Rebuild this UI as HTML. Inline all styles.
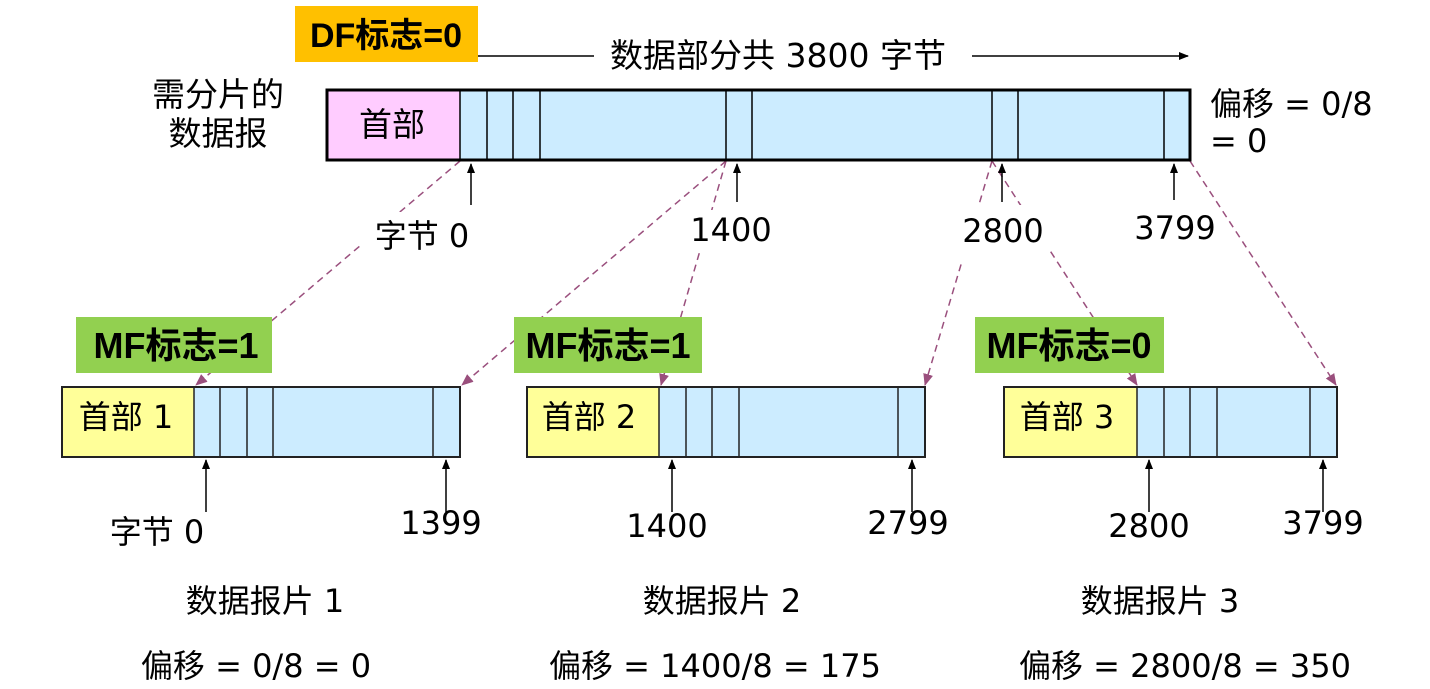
<!DOCTYPE html>
<html><head><meta charset="utf-8"><style>
html,body{margin:0;padding:0;background:#fff;}
svg{display:block;}
text{font-family:"DejaVu Sans","Noto Sans CJK SC",sans-serif;fill:#000;}
text.b{font-family:"Liberation Sans","Noto Sans CJK SC",sans-serif;font-weight:bold;}
</style></head><body>
<svg width="1430" height="689" viewBox="0 0 1430 689" xmlns="http://www.w3.org/2000/svg">
<defs>
<marker id="ah" markerWidth="10" markerHeight="10" refX="9" refY="5" orient="auto" markerUnits="userSpaceOnUse"><path d="M0,1 L10,5 L0,9 z" fill="#000"/></marker>
<marker id="ap" markerWidth="12" markerHeight="12" refX="11" refY="6" orient="auto" markerUnits="userSpaceOnUse"><path d="M0,1 L12,6 L0,11 z" fill="#9a4f7d"/></marker>
</defs>
<g stroke="#9a4f7d" stroke-width="1.5" stroke-dasharray="7,5" fill="none">
<line x1="460" y1="161" x2="196" y2="385" marker-end="url(#ap)"/>
<line x1="726" y1="161" x2="462" y2="385" marker-end="url(#ap)"/>
<line x1="726" y1="161" x2="661" y2="385" marker-end="url(#ap)"/>
<line x1="992" y1="161" x2="925" y2="385" marker-end="url(#ap)"/>
<line x1="992" y1="161" x2="1137" y2="385" marker-end="url(#ap)"/>
<line x1="1190" y1="161" x2="1336" y2="385" marker-end="url(#ap)"/>
</g>
<rect x="360" y="212" width="115" height="42" fill="#fff"/>
<rect x="688" y="210" width="90" height="40" fill="#fff"/>
<rect x="955" y="205" width="95" height="55" fill="#fff"/>
<rect x="1130" y="208" width="90" height="40" fill="#fff"/>

<rect x="295" y="6" width="183" height="56" fill="#FFC000"/>
<text class="b" x="386" y="47" font-size="34" text-anchor="middle">DF标志=0</text>
<line x1="478" y1="56" x2="594" y2="56" stroke="#000" stroke-width="1.5"/>
<text x="778" y="67" font-size="33" text-anchor="middle">数据部分共 3800 字节</text>
<line x1="972" y1="56" x2="1188" y2="56" stroke="#000" stroke-width="1.5" marker-end="url(#ah)"/>

<text x="218" y="106" font-size="33" text-anchor="middle">需分片的</text>
<text x="218" y="145" font-size="33" text-anchor="middle">数据报</text>
<text x="1210" y="115" font-size="32">偏移 = 0/8</text>
<text x="1210" y="152" font-size="32">= 0</text>

<rect x="327" y="90" width="133" height="70" fill="#FFCCFF"/>
<rect x="460" y="90" width="730" height="70" fill="#CCECFF"/>
<g stroke="#000" stroke-width="1.5">
<line x1="460" y1="90" x2="460" y2="160"/><line x1="487" y1="90" x2="487" y2="160"/><line x1="513" y1="90" x2="513" y2="160"/><line x1="540" y1="90" x2="540" y2="160"/>
<line x1="726" y1="90" x2="726" y2="160"/><line x1="752" y1="90" x2="752" y2="160"/><line x1="992" y1="90" x2="992" y2="160"/><line x1="1018" y1="90" x2="1018" y2="160"/><line x1="1164" y1="90" x2="1164" y2="160"/>
</g>
<rect x="327" y="90" width="863" height="70" fill="none" stroke="#000" stroke-width="3"/>
<text x="392" y="136" font-size="33" text-anchor="middle">首部</text>

<g stroke="#000" stroke-width="1.5">
<line x1="471" y1="205" x2="471" y2="164" marker-end="url(#ah)"/>
<line x1="737" y1="202" x2="737" y2="164" marker-end="url(#ah)"/>
<line x1="1002" y1="202" x2="1002" y2="164" marker-end="url(#ah)"/>
<line x1="1174" y1="200" x2="1174" y2="164" marker-end="url(#ah)"/>
</g>
<text x="422" y="247" font-size="32" text-anchor="middle">字节 0</text>
<text x="731" y="241" font-size="32" text-anchor="middle">1400</text>
<text x="1003" y="242" font-size="32" text-anchor="middle">2800</text>
<text x="1175" y="239" font-size="32" text-anchor="middle">3799</text>

<rect x="76" y="317" width="196" height="56" fill="#92D050"/>
<text class="b" x="176" y="358" font-size="36" text-anchor="middle">MF标志=1</text>
<rect x="514" y="317" width="188" height="56" fill="#92D050"/>
<text class="b" x="608" y="358" font-size="36" text-anchor="middle">MF标志=1</text>
<rect x="975" y="317" width="189" height="56" fill="#92D050"/>
<text class="b" x="1069" y="358" font-size="36" text-anchor="middle">MF标志=0</text>

<rect x="62" y="387" width="132" height="70" fill="#FFFF99"/>
<rect x="194" y="387" width="266" height="70" fill="#CCECFF"/>
<g stroke="#222" stroke-width="1.5"><line x1="194" y1="387" x2="194" y2="457"/><line x1="220" y1="387" x2="220" y2="457"/><line x1="247" y1="387" x2="247" y2="457"/><line x1="273" y1="387" x2="273" y2="457"/><line x1="433" y1="387" x2="433" y2="457"/></g>
<rect x="62" y="387" width="398" height="70" fill="none" stroke="#222" stroke-width="2"/>
<text x="126" y="428" font-size="32" text-anchor="middle">首部 1</text>
<rect x="527" y="387" width="132" height="70" fill="#FFFF99"/>
<rect x="659" y="387" width="266" height="70" fill="#CCECFF"/>
<g stroke="#222" stroke-width="1.5"><line x1="659" y1="387" x2="659" y2="457"/><line x1="686" y1="387" x2="686" y2="457"/><line x1="712" y1="387" x2="712" y2="457"/><line x1="739" y1="387" x2="739" y2="457"/><line x1="898" y1="387" x2="898" y2="457"/></g>
<rect x="527" y="387" width="398" height="70" fill="none" stroke="#222" stroke-width="2"/>
<text x="589" y="428" font-size="32" text-anchor="middle">首部 2</text>
<rect x="1004" y="387" width="133" height="70" fill="#FFFF99"/>
<rect x="1137" y="387" width="200" height="70" fill="#CCECFF"/>
<g stroke="#222" stroke-width="1.5"><line x1="1137" y1="387" x2="1137" y2="457"/><line x1="1164" y1="387" x2="1164" y2="457"/><line x1="1190" y1="387" x2="1190" y2="457"/><line x1="1217" y1="387" x2="1217" y2="457"/><line x1="1310" y1="387" x2="1310" y2="457"/></g>
<rect x="1004" y="387" width="333" height="70" fill="none" stroke="#222" stroke-width="2"/>
<text x="1067" y="428" font-size="32" text-anchor="middle">首部 3</text>

<g stroke="#000" stroke-width="1.5">
<line x1="206" y1="512" x2="206" y2="460" marker-end="url(#ah)"/>
<line x1="446" y1="512" x2="446" y2="460" marker-end="url(#ah)"/>
<line x1="672" y1="512" x2="672" y2="460" marker-end="url(#ah)"/>
<line x1="912" y1="512" x2="912" y2="460" marker-end="url(#ah)"/>
<line x1="1149" y1="512" x2="1149" y2="460" marker-end="url(#ah)"/>
<line x1="1323" y1="512" x2="1323" y2="460" marker-end="url(#ah)"/>
</g>
<text x="157" y="543" font-size="32" text-anchor="middle">字节 0</text>
<text x="441" y="534" font-size="32" text-anchor="middle">1399</text>
<text x="667" y="537" font-size="32" text-anchor="middle">1400</text>
<text x="908" y="534" font-size="32" text-anchor="middle">2799</text>
<text x="1149" y="537" font-size="32" text-anchor="middle">2800</text>
<text x="1323" y="534" font-size="32" text-anchor="middle">3799</text>

<text x="265" y="612" font-size="32" text-anchor="middle">数据报片 1</text>
<text x="722" y="612" font-size="32" text-anchor="middle">数据报片 2</text>
<text x="1160" y="612" font-size="32" text-anchor="middle">数据报片 3</text>
<text x="256" y="677" font-size="32" text-anchor="middle">偏移 = 0/8 = 0</text>
<text x="715" y="677" font-size="32" text-anchor="middle">偏移 = 1400/8 = 175</text>
<text x="1185" y="677" font-size="32" text-anchor="middle">偏移 = 2800/8 = 350</text>
</svg>
</body></html>
